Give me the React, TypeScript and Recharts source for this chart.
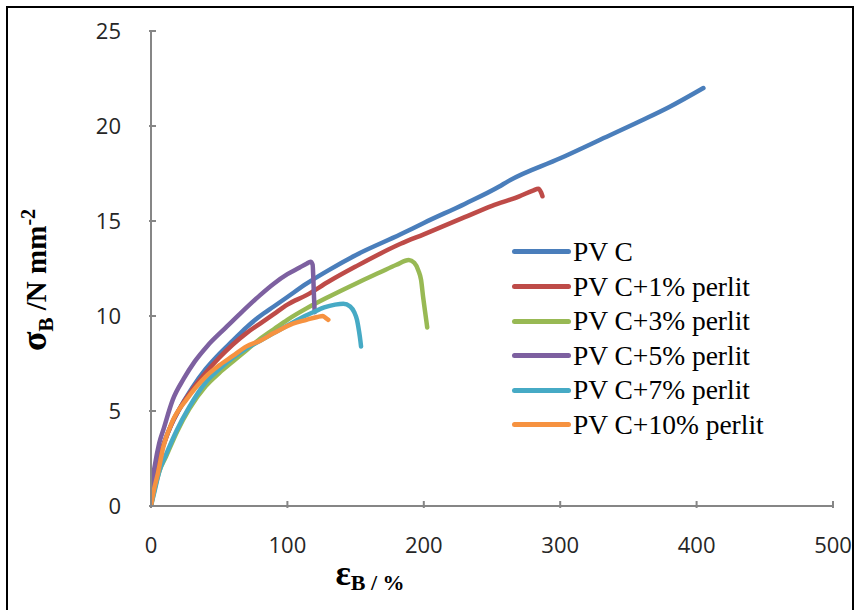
import React from "react";
import { LineChart, Line, XAxis, YAxis } from "recharts";

// strain (%) / stress (N mm-2), one pair of arrays per sample
const pvcStrain = [0, 3, 6, 10, 15, 20, 30, 40, 50, 60, 70, 80, 90, 100, 114, 130, 150, 183, 200, 230, 255, 262, 300, 330, 360, 380, 405];
const pvcStress = [0, 1.5, 2.5, 3.4, 4.3, 5.0, 6.2, 7.2, 8.0, 8.7, 9.4, 10.0, 10.5, 11.0, 11.7, 12.4, 13.2, 14.3, 14.9, 15.9, 16.8, 17.1, 18.3, 19.3, 20.3, 21.0, 22.0];

const p1Strain = [0, 3, 6, 10, 15, 20, 30, 40, 50, 60, 70, 80, 90, 100, 114, 130, 150, 183, 200, 230, 250, 270, 280, 284, 286, 287];
const p1Stress = [0, 1.5, 2.5, 3.4, 4.3, 5.0, 6.1, 7.0, 7.8, 8.5, 9.1, 9.6, 10.1, 10.6, 11.1, 11.8, 12.6, 13.8, 14.3, 15.2, 15.8, 16.3, 16.6, 16.7, 16.5, 16.3];

const p3Strain = [0, 3, 6, 11, 19, 28, 40, 50, 60, 70, 80, 90, 100, 114, 130, 150, 168, 180, 189, 193, 196, 198, 199.5, 201, 202.5];
const p3Stress = [0, 1.0, 1.8, 2.6, 3.9, 5.1, 6.3, 7.0, 7.6, 8.2, 8.8, 9.3, 9.8, 10.4, 11.0, 11.7, 12.3, 12.7, 12.95, 12.8, 12.4, 11.9, 11.0, 10.2, 9.4];

const p5Strain = [0, 1, 3, 6, 9, 16, 24, 32, 41, 55, 65, 80, 90, 100, 109, 114, 117, 118.5, 119, 119.5, 120];
const p5Stress = [0, 1.2, 2.2, 3.3, 4.0, 5.6, 6.7, 7.6, 8.4, 9.4, 10.1, 11.1, 11.7, 12.2, 12.55, 12.75, 12.85, 12.7, 12.0, 11.0, 10.2];

const p7Strain = [0, 3, 6, 11, 19, 28, 40, 50, 60, 70, 80, 90, 100, 110, 119, 127, 135, 141, 146, 149, 151, 152.5, 153.5, 154];
const p7Stress = [0, 0.9, 1.8, 2.7, 4.0, 5.2, 6.5, 7.2, 7.8, 8.3, 8.7, 9.1, 9.5, 9.9, 10.2, 10.45, 10.6, 10.65, 10.5, 10.2, 9.8, 9.2, 8.7, 8.4];

const p10Strain = [0, 2, 5, 9, 16, 26, 40, 50, 60, 70, 80, 90, 104, 114, 122, 126, 128, 130];
const p10Stress = [0, 0.8, 1.7, 3.1, 4.5, 5.6, 6.8, 7.4, 7.9, 8.4, 8.7, 9.1, 9.6, 9.8, 9.95, 10.0, 9.9, 9.8];

const seriesNames = ["PV C", "PV C+1% perlit", "PV C+3% perlit", "PV C+5% perlit", "PV C+7% perlit", "PV C+10% perlit"];
const seriesColors = ["#4a7ebb", "#be4b48", "#98b954", "#7d60a0", "#46aac5", "#f69240"];
const xTicks = [0, 100, 200, 300, 400, 500];
const yTicks = [0, 5, 10, 15, 20, 25];

const toPoints = (strain: number[], stress: number[]) =>
    strain.map((x, i) => ({ x, y: stress[i] }));

const series = [
    toPoints(pvcStrain, pvcStress),
    toPoints(p1Strain, p1Stress),
    toPoints(p3Strain, p3Stress),
    toPoints(p5Strain, p5Stress),
    toPoints(p7Strain, p7Stress),
    toPoints(p10Strain, p10Stress),
];

const axisGray = "#868686";
const tickFont = "'Open Sans', sans-serif";

// ticks are drawn inside the plot like in Excel
const XTick = ({ x, y, payload }: any) => (
    <g>
        <line x1={x} y1={y} x2={x} y2={y - 7} stroke={axisGray} strokeWidth={2} />
        <text x={x} y={y + 45} textAnchor="middle" fontFamily={tickFont} fontSize={22} fill="#262626">
            {payload.value}
        </text>
    </g>
);

const YTick = ({ x, y, payload }: any) => (
    <g>
        <line x1={x} y1={y} x2={x + 7} y2={y} stroke={axisGray} strokeWidth={2} />
        <text x={x - 28} y={y + 8} textAnchor="end" fontFamily={tickFont} fontSize={22} fill="#262626">
            {payload.value}
        </text>
    </g>
);

export default function App() {
    return (
        <div style={{ position: "absolute", left: 0, top: 0, width: 860, height: 610, overflow: "hidden", background: "#fff" }}>
            <div style={{ position: "absolute", left: 6, top: 6, width: 844, height: 640, borderLeft: "2px solid #000", borderTop: "2px solid #000", borderRight: "2px solid #000" }} />
            <LineChart width={860} height={610} margin={{ top: 31, right: 27, left: 0, bottom: 74 }}>
                <XAxis
                    dataKey="x"
                    type="number"
                    domain={[0, 500]}
                    ticks={xTicks}
                    height={30}
                    tickSize={0}
                    tickLine={false}
                    stroke={axisGray}
                    strokeWidth={2}
                    tick={<XTick />}
                    allowDataOverflow
                />
                <YAxis
                    dataKey="y"
                    type="number"
                    domain={[0, 25]}
                    ticks={yTicks}
                    width={151}
                    tickSize={0}
                    tickLine={false}
                    stroke={axisGray}
                    strokeWidth={2}
                    tick={<YTick />}
                    allowDataOverflow
                />
                {series.map((pts, i) => (
                    <Line
                        key={seriesNames[i]}
                        data={pts}
                        dataKey="y"
                        name={seriesNames[i]}
                        type="monotone"
                        stroke={seriesColors[i]}
                        strokeWidth={4.5}
                        strokeLinejoin="round"
                        strokeLinecap="round"
                        dot={false}
                        isAnimationActive={false}
                    />
                ))}
            </LineChart>

            {/* legend */}
            <div style={{ position: "absolute", left: 512, top: 234.7 }}>
                {seriesNames.map((name, i) => (
                    <div key={name} style={{ display: "flex", alignItems: "center", height: 34.6 }}>
                        <div style={{ width: 59, height: 5, borderRadius: 3, background: seriesColors[i] }} />
                        <span style={{ marginLeft: 2, fontFamily: "'Liberation Serif', serif", fontSize: 27.5, lineHeight: "30px", color: "#000", whiteSpace: "pre" }}>
                            {name}
                        </span>
                    </div>
                ))}
            </div>

            {/* axis titles */}
            <div
                style={{
                    position: "absolute", left: 36, top: 280, transform: "translate(-50%, -50%) rotate(-90deg)",
                    whiteSpace: "nowrap", fontFamily: "'Liberation Serif', serif", fontWeight: "bold", fontSize: 29, color: "#000",
                }}
            >
                <span style={{ fontSize: 36 }}>σ</span>
                <sub style={{ fontSize: 21 }}>B</sub> /N mm<sup style={{ fontSize: 20 }}>-2</sup>
            </div>
            <div
                style={{
                    position: "absolute", left: 370, top: 574, transform: "translate(-50%, -50%)",
                    whiteSpace: "nowrap", fontFamily: "'Liberation Serif', serif", fontWeight: "bold", color: "#000",
                }}
            >
                <span style={{ fontSize: 36 }}>ε</span>
                <sub style={{ fontSize: 22 }}>B / %</sub>
            </div>
        </div>
    );
}
